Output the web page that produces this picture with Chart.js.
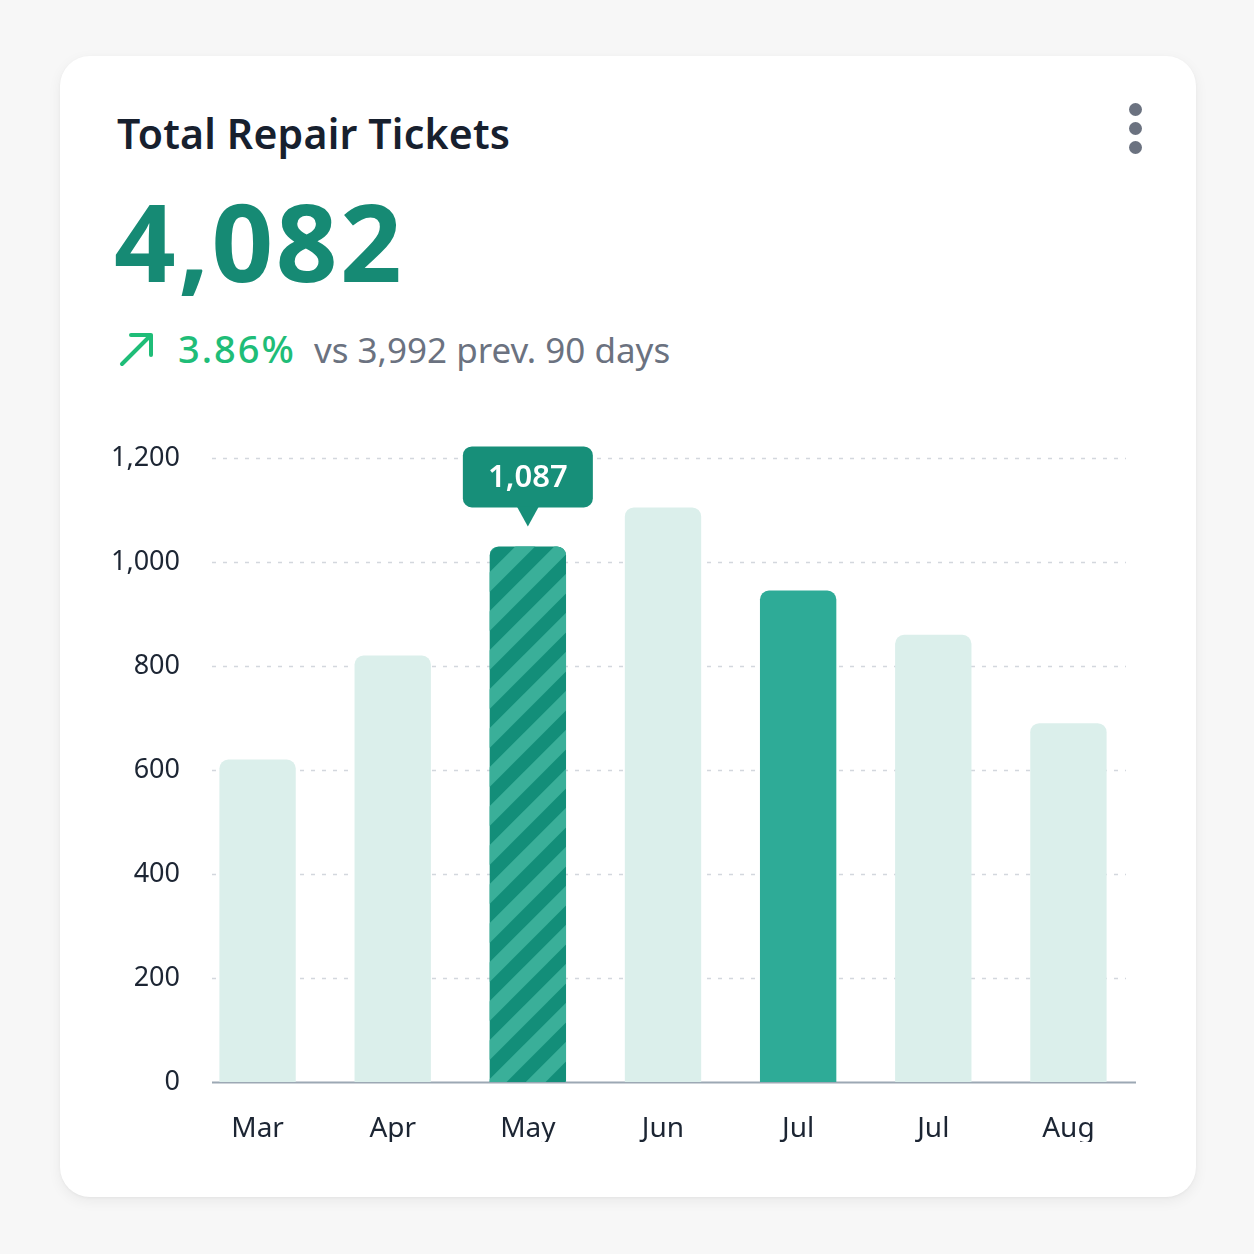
<!DOCTYPE html>
<html>
<head>
<meta charset="utf-8">
<script src="https://cdn.jsdelivr.net/npm/chart.js@4.4.1/dist/chart.umd.min.js"></script>
<style>
  html, body { margin: 0; padding: 0; background: #f7f7f7; }
  body { width: 1254px; height: 1254px; position: relative; overflow: hidden; font-family: "Noto Sans", sans-serif; }
  .card {
    position: absolute; left: 60px; top: 56px; width: 1136px; height: 1141px;
    background: #ffffff; border-radius: 30px;
    box-shadow: 0 4px 14px rgba(0,0,0,0.06), 0 1px 3px rgba(0,0,0,0.04);
  }
  .title { position: absolute; left: 117px; top: 105px; font-size: 41px; font-weight: 600; color: #17202e; letter-spacing: 0.2px; }
  .big { position: absolute; left: 114px; top: 167px; font-size: 108px; font-weight: 700; color: #168a74; letter-spacing: 2.5px; }
  .delta { position: absolute; left: 118px; top: 322px; font-size: 35px; color: #6b7280; white-space: nowrap; }
  .delta .pct { color: #1fbd78; font-weight: 500; font-size: 38px; letter-spacing: 2px; margin-left: 22px; margin-right: 18px; }
  .delta svg { vertical-align: -4px; }
  .menu { position: absolute; left: 1129px; top: 103px; }
  .menu i { display: block; width: 13px; height: 13px; border-radius: 50%; background: #6b7280; margin-bottom: 6px; }
  canvas { position: absolute; left: 0; top: 0; }
</style>
</head>
<body>
<div class="card"></div>
<div class="title">Total Repair Tickets</div>
<div class="big">4,082</div>
<div class="delta"><svg width="38" height="36" viewBox="0 0 38 36"><path d="M4 33 L33 4 M13 4 L33 4 L33 24" fill="none" stroke="#1fbd78" stroke-width="4" stroke-linecap="round" stroke-linejoin="round"/></svg><span class="pct">3.86%</span>vs 3,992 prev. 90 days</div>
<div class="menu"><i></i><i></i><i></i></div>
<canvas id="myChart" width="1254" height="1254"></canvas>
<script>
const months = ["Mar", "Apr", "May", "Jun", "Jul", "Jul", "Aug"];
const tickets = [620, 820, 1030, 1105, 945, 860, 690];
const yTicks = [0, 200, 400, 600, 800, 1000, 1200];
const calloutIndex = 2;
const calloutText = "1,087";

const lightBar = "#dbefeb";
const solidBar = "#2eab97";
const stripeDark = "#138e79";
const stripeLight = "#3aaf99";

const colors = tickets.map((v, i) => {
  if (i === calloutIndex) return stripeDark;
  if (i === 4) return solidBar;
  return lightBar;
});

// dashed guides + baseline, starting a bit right of the axis
const gridPlugin = {
  id: "grid",
  beforeDatasetsDraw(chart) {
    const { ctx, chartArea, scales } = chart;
    const left = chartArea.left + 22;
    ctx.save();
    yTicks.forEach(t => {
      const y = Math.round(scales.y.getPixelForValue(t)) + 0.5;
      ctx.beginPath();
      if (t === 0) {
        ctx.setLineDash([]);
        ctx.strokeStyle = "#9ca8b4";
        ctx.lineWidth = 2;
        ctx.moveTo(left, y); ctx.lineTo(chartArea.right, y);
      } else {
        ctx.setLineDash([4, 7]);
        ctx.strokeStyle = "#d3d7dd";
        ctx.lineWidth = 1.5;
        ctx.moveTo(left, y); ctx.lineTo(chartArea.right - 10, y);
      }
      ctx.stroke();
    });
    ctx.restore();
  }
};

// diagonal stripes over the highlighted bar, then the value callout
const calloutPlugin = {
  id: "callout",
  afterDatasetsDraw(chart) {
    const bar = chart.getDatasetMeta(0).data[calloutIndex];
    const { ctx } = chart;
    const bw = bar.width, bx = bar.x - bw / 2, by = bar.y, bh = bar.base - bar.y;

    ctx.save();
    ctx.beginPath();
    ctx.roundRect(bx, by, bw, bh, [9, 9, 0, 0]);
    ctx.clip();
    ctx.strokeStyle = stripeLight;
    ctx.lineWidth = 14;
    const step = 39;
    for (let y0 = by - bw; y0 < bar.base + bw + step; y0 += step) {
      ctx.beginPath();
      ctx.moveTo(bx - 5, y0);
      ctx.lineTo(bx + bw + 5, y0 - bw - 10);
      ctx.stroke();
    }
    ctx.restore();

    const w = 130, h = 61, gap = 39;
    const x = bar.x, bottom = bar.y - gap, top = bottom - h;
    ctx.save();
    ctx.fillStyle = "#178f79";
    ctx.beginPath();
    ctx.roundRect(x - w / 2, top, w, h, 9);
    ctx.fill();
    ctx.beginPath();
    ctx.moveTo(x - 11, bottom - 1);
    ctx.lineTo(x + 11, bottom - 1);
    ctx.lineTo(x, bottom + 19);
    ctx.closePath();
    ctx.fill();
    ctx.fillStyle = "#ffffff";
    ctx.font = "600 31px 'Noto Sans'";
    ctx.textAlign = "center";
    ctx.textBaseline = "middle";
    ctx.fillText(calloutText, x, top + h / 2 + 1);
    ctx.restore();
  }
};

const ctx = document.getElementById("myChart");
const myChart = new Chart(ctx, {
  type: "bar",
  data: {
    labels: months,
    datasets: [{
      data: tickets,
      backgroundColor: colors,
      borderRadius: { topLeft: 9, topRight: 9 },
      borderSkipped: "bottom",
      barPercentage: 0.565,
      categoryPercentage: 1,
    }],
  },
  options: {
    responsive: false,
    animation: false,
    devicePixelRatio: 1,
    layout: { padding: { left: 60, right: 118, top: 458, bottom: 112 } },
    plugins: { legend: { display: false }, tooltip: { enabled: false } },
    scales: {
      x: {
        grid: { display: false, drawTicks: false },
        border: { display: false },
        ticks: { color: "#1c2533", padding: 30, font: { family: "Noto Sans", size: 28 } },
        afterFit(s) { s.height = 60; },
      },
      y: {
        min: 0, max: 1200,
        grid: { display: false, drawTicks: false },
        border: { display: false },
        ticks: {
          stepSize: 200, color: "#1c2533", padding: 10,
          font: { family: "Noto Sans", size: 27 },
          callback: v => v.toLocaleString("en-US"),
        },
        afterFit(s) { s.width = 130; },
      },
    },
  },
  plugins: [gridPlugin, calloutPlugin],
});
</script>
</body>
</html>
